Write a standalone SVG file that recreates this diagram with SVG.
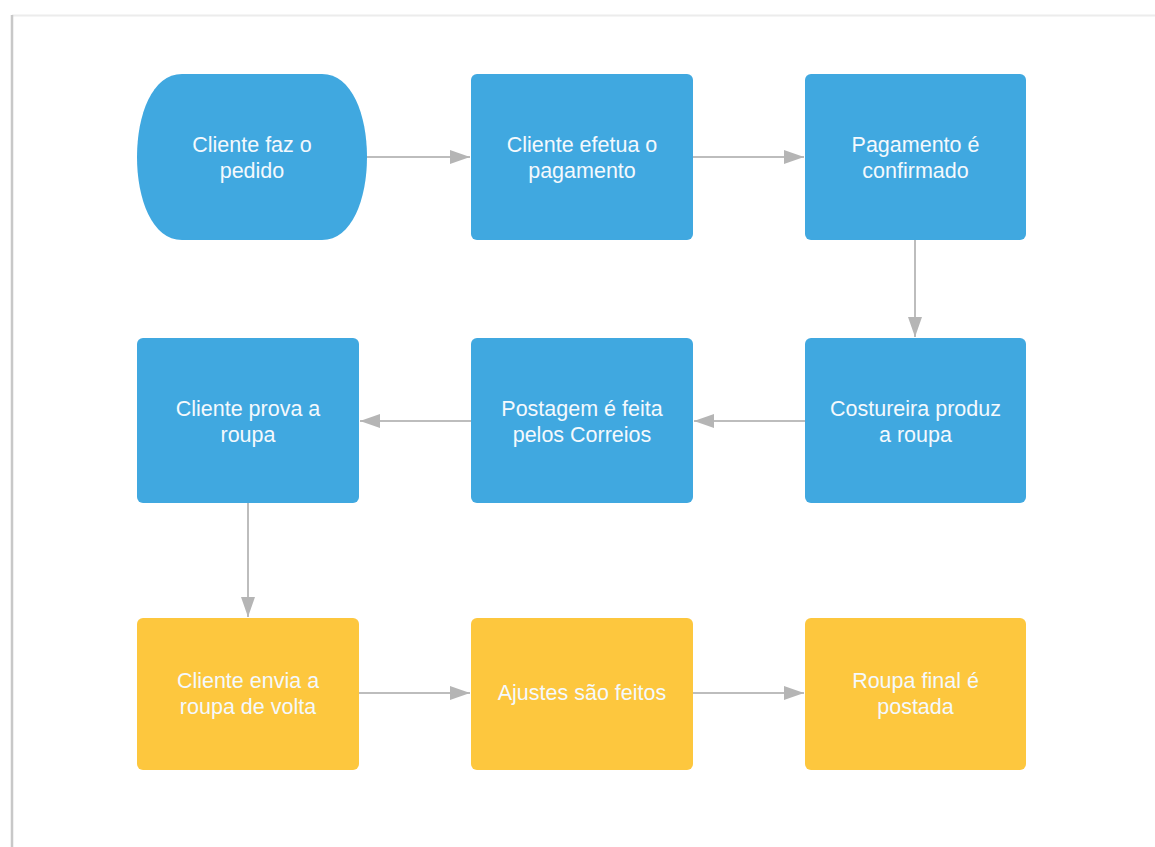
<svg xmlns="http://www.w3.org/2000/svg" width="1155" height="847" viewBox="0 0 1155 847">
<defs>
<style>
.b{fill:#40A8E0}
.y{fill:#FDC73E}
.t{font-family:"Liberation Sans",Arial,sans-serif;font-size:21.5px;fill:#f4f9fd;text-anchor:middle}
.c{stroke:#bdbdbd;stroke-width:2;fill:none;marker-end:url(#ah)}
</style>
<marker id="ah" viewBox="0 0 20 14" refX="20" refY="7" markerWidth="20" markerHeight="14" markerUnits="userSpaceOnUse" orient="auto">
<path d="M0,0 L20,7 L0,14 Z" fill="#b5b5b5"/>
</marker>
</defs>
<rect width="1155" height="847" fill="#fff"/>
<line x1="1155" y1="15.5" x2="12" y2="15.5" stroke="#ececec" stroke-width="2"/>
<line x1="12" y1="15" x2="12" y2="847" stroke="#c8c8c8" stroke-width="2.5"/>
<g id="connectors">
<line class="c" x1="367" y1="157" x2="470" y2="157"/>
<line class="c" x1="693" y1="157" x2="804" y2="157"/>
<line class="c" x1="915" y1="240" x2="915" y2="337"/>
<line class="c" x1="805" y1="421" x2="694" y2="421"/>
<line class="c" x1="471" y1="421" x2="360" y2="421"/>
<line class="c" x1="248" y1="503" x2="248" y2="617"/>
<line class="c" x1="359" y1="693" x2="470" y2="693"/>
<line class="c" x1="693" y1="693" x2="804" y2="693"/>
</g>
<g id="n1">
<path class="b" d="M182,74 L322,74 C352,74 367,115 367,157 C367,199 352,240 322,240 L182,240 C152,240 137,199 137,157 C137,115 152,74 182,74 Z"/>
<text class="t" x="252" y="152">Cliente faz o</text>
<text class="t" x="252" y="178">pedido</text>
</g>
<g id="n2">
<rect class="b" x="471" y="74" width="222" height="166" rx="6"/>
<text class="t" x="582" y="152">Cliente efetua o</text>
<text class="t" x="582" y="178">pagamento</text>
</g>
<g id="n3">
<rect class="b" x="805" y="74" width="221" height="166" rx="6"/>
<text class="t" x="915.5" y="152">Pagamento é</text>
<text class="t" x="915.5" y="178">confirmado</text>
</g>
<g id="n4">
<rect class="b" x="805" y="338" width="221" height="165" rx="6"/>
<text class="t" x="915.5" y="416">Costureira produz</text>
<text class="t" x="915.5" y="442">a roupa</text>
</g>
<g id="n5">
<rect class="b" x="471" y="338" width="222" height="165" rx="6"/>
<text class="t" x="582" y="416">Postagem é feita</text>
<text class="t" x="582" y="442">pelos Correios</text>
</g>
<g id="n6">
<rect class="b" x="137" y="338" width="222" height="165" rx="6"/>
<text class="t" x="248" y="416">Cliente prova a</text>
<text class="t" x="248" y="442">roupa</text>
</g>
<g id="n7">
<rect class="y" x="137" y="618" width="222" height="152" rx="6"/>
<text class="t" x="248" y="688">Cliente envia a</text>
<text class="t" x="248" y="714">roupa de volta</text>
</g>
<g id="n8">
<rect class="y" x="471" y="618" width="222" height="152" rx="6"/>
<text class="t" x="582" y="700">Ajustes são feitos</text>
</g>
<g id="n9">
<rect class="y" x="805" y="618" width="221" height="152" rx="6"/>
<text class="t" x="915.5" y="688">Roupa final é</text>
<text class="t" x="915.5" y="714">postada</text>
</g>
</svg>
